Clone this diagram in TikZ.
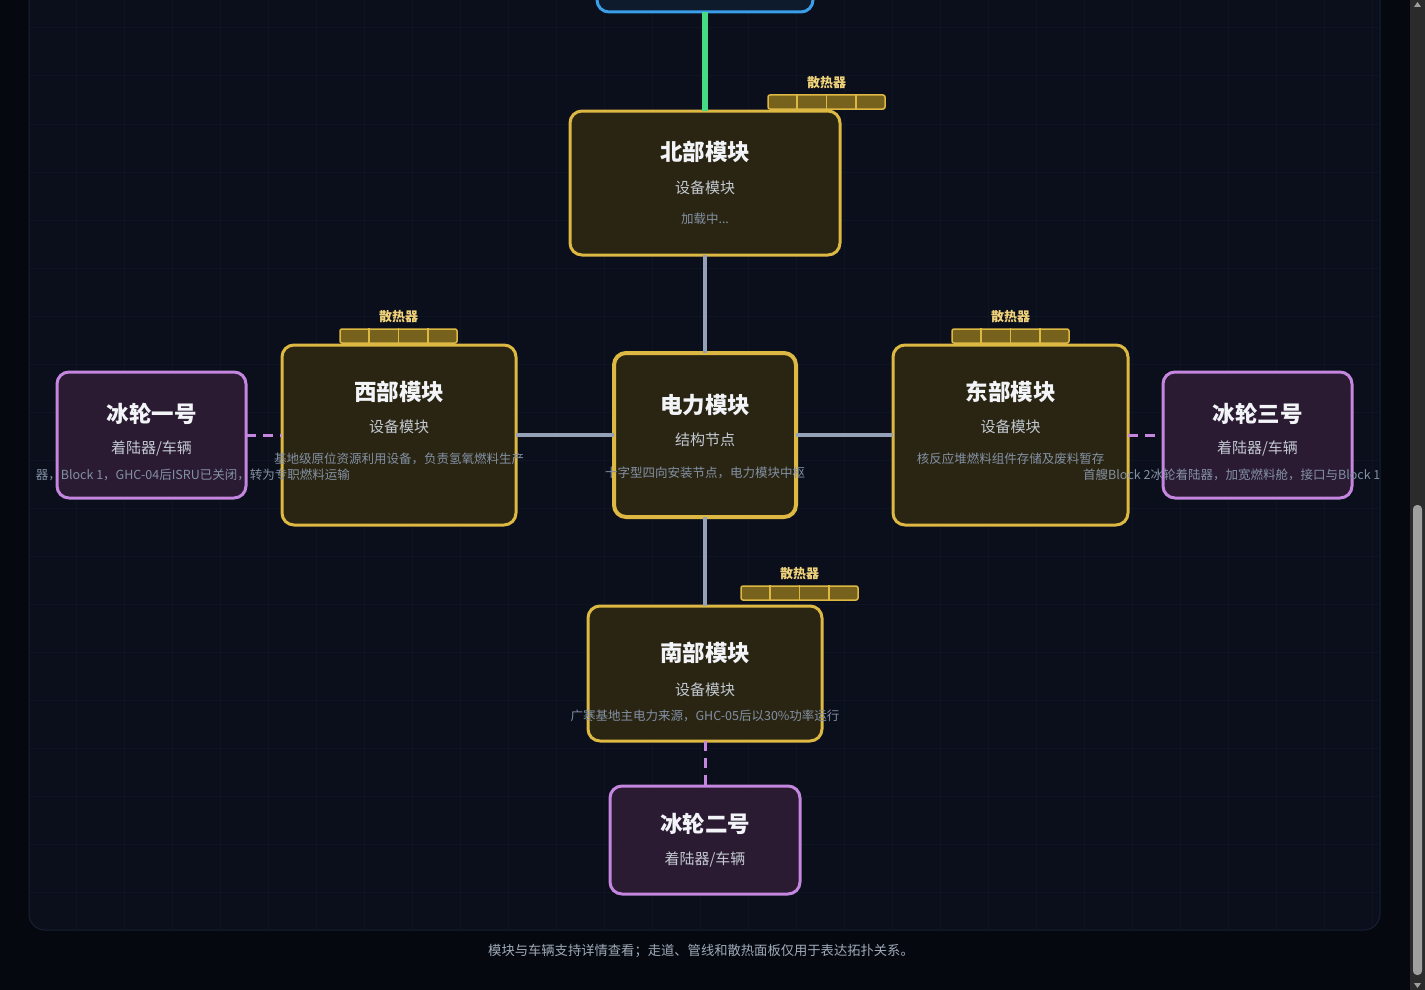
\documentclass[tikz,border=0pt]{standalone}
\usepackage{fontspec}
\setmainfont{Noto Sans CJK SC}
\usepackage{tikz}
\definecolor{PageDark}{HTML}{05080F}
\definecolor{PanelDark}{HTML}{0A0F1B}
\definecolor{PanelEdge}{HTML}{172134}
\definecolor{GridLine}{HTML}{0D1422}
\definecolor{ModGold}{HTML}{DDB843}
\definecolor{ModFill}{HTML}{2A2512}
\definecolor{FinFill}{HTML}{76621C}
\definecolor{FinText}{HTML}{F0D27A}
\definecolor{CarPurple}{HTML}{C586DF}
\definecolor{CarFill}{HTML}{2A1B33}
\definecolor{CoreBlue}{HTML}{3A9EE8}
\definecolor{CoreFill}{HTML}{0E1B2D}
\definecolor{PipeGray}{HTML}{94A1B6}
\definecolor{PipeGreen}{HTML}{46DC86}
\definecolor{TitleWhite}{HTML}{F2F4F8}
\definecolor{SubGray}{HTML}{C3C9D2}
\definecolor{DescGray}{HTML}{8391A5}
\definecolor{FootGray}{HTML}{A0AAB8}
\definecolor{BarTrack}{HTML}{2B2B2B}
\definecolor{BarThumb}{HTML}{9F9F9F}
\usetikzlibrary{calc,positioning}

\begin{document}
\begin{tikzpicture}[x=1pt, y=-1pt,
  module/.style={draw=ModGold, fill=ModFill, line width=3pt, rounded corners=12pt, inner sep=0pt, outer sep=0pt},
  vehicle/.style={draw=CarPurple, fill=CarFill, line width=3pt, rounded corners=12pt, inner sep=0pt, outer sep=0pt},
  title/.style={text=TitleWhite, font=\bfseries\fontsize{22.5}{24}\selectfont, inner sep=0pt},
  subline/.style={text=SubGray, font=\fontsize{15}{17}\selectfont, inner sep=0pt},
  descline/.style={text=DescGray, font=\fontsize{12.5}{14}\selectfont, inner sep=0pt},
  fin/.style={draw=ModGold, fill=FinFill, line width=1.5pt, rounded corners=2pt, minimum width=117, minimum height=14, inner sep=0pt},
  finlabel/.style={text=FinText, font=\bfseries\fontsize{13}{15}\selectfont, inner sep=0pt},
  walk/.style={draw=PipeGray, line width=4pt},
  feed/.style={draw=PipeGreen, line width=6pt},
  dock/.style={draw=CarPurple, line width=3pt, dash pattern=on 10pt off 7pt}]

 \fill[PageDark] (0,0) rectangle (1425,990);
 \useasboundingbox (0,0) rectangle (1425,990);

 % panel with grid
 \fill[PanelDark, rounded corners=16pt] (29,-40) rectangle (1380,930);
 \begin{scope}
 \clip[rounded corners=16pt] (29,-40) rectangle (1380,930);
 \foreach \gx in {28,76,...,1380} \draw[GridLine, line width=1pt] (\gx,-40) -- (\gx,930);
 \foreach \gy in {28,76,...,930} \draw[GridLine, line width=1pt] (29,\gy) -- (1380,\gy);

 % modules
 \node (hub) [module, line width=4pt, minimum width=182, minimum height=164] at (705,435) {};
 \node (north) [module, minimum width=270, minimum height=144, above=98pt of hub] {};
 \node (west) [module, minimum width=234, minimum height=180, left=98pt of hub] {};
 \node (east) [module, minimum width=235, minimum height=180, right=97pt of hub] {};
 \node (south) [module, minimum width=234, minimum height=135, below=89pt of hub] {};
 \node (core) [draw=CoreBlue, fill=CoreFill, line width=3pt, rounded corners=12pt, outer sep=0pt, minimum width=216, minimum height=100, above=99pt of north] {};

 % vehicles
 \node (ice1) [vehicle, minimum width=189, minimum height=126, left=36pt of west] {};
 \node (ice3) [vehicle, minimum width=189, minimum height=126, right=35pt of east] {};
 \node (ice2) [vehicle, minimum width=190, minimum height=108, below=45pt of south] {};

 % radiators
 \foreach \fx/\fy [count=\i] in {826.5/102, 398.5/336, 1010.5/336, 799.5/593} {
  \node (fin\i) [fin] at (\fx,\fy) {};
  \foreach \k in {1,2,3}
   \draw[ModGold, line width=1.5pt] ($(fin\i.south west)!\k/4!(fin\i.south east)$) -- ($(fin\i.north west)!\k/4!(fin\i.north east)$);
  \node [finlabel] at ($(fin\i.north)+(0,-12)$) {散热器};
 }

 % connectors
 \draw[feed] (core) -- (north);
 \draw[walk] (north) -- (hub);
 \draw[walk] (west) -- (hub);
 \draw[walk] (hub) -- (east);
 \draw[walk] (hub) -- (south);
 \draw[dock] (ice1) -- (west);
 \draw[dock] (east) -- (ice3);
 \draw[dock] (south) -- (ice2);

 % texts
 \node [title] at ($(north.north)+(0,41)$) {北部模块};
 \node [subline] at ($(north.north)+(0,77)$) {设备模块};
 \node [descline] at ($(north.north)+(0,108)$) {加载中...};

 \node [title] at ($(hub.north)+(0,52)$) {电力模块};
 \node [subline] at ($(hub.north)+(0,87)$) {结构节点};
 \node [descline] at ($(hub.north)+(0,120)$) {十字型四向安装节点，电力模块中枢};

 \node [title] at ($(west.north)+(0,47)$) {西部模块};
 \node [subline] at ($(west.north)+(0,82)$) {设备模块};
 \node [descline] at ($(west.north)+(0,114)$) {基地级原位资源利用设备，负责氢氧燃料生产};

 \node [title] at ($(east.north)+(0,47)$) {东部模块};
 \node [subline] at ($(east.north)+(0,82)$) {设备模块};
 \node [descline] at ($(east.north)+(0,114)$) {核反应堆燃料组件存储及废料暂存};

 \node [title] at ($(south.north)+(0,47)$) {南部模块};
 \node [subline] at ($(south.north)+(0,84)$) {设备模块};
 \node [descline] at ($(south.north)+(0,110)$) {广寒基地主电力来源，GHC-05后以30\%功率运行};

 \node [title] at ($(ice1.north)+(0,42)$) {冰轮一号};
 \node [subline] at ($(ice1.north)+(0,77)$) {着陆器/车辆};
 \node [descline, anchor=east] at (350,475) {器，Block 1，GHC-04后ISRU已关闭，转为专职燃料运输};

 \node [title] at ($(ice3.north)+(0,42)$) {冰轮三号};
 \node [subline] at ($(ice3.north)+(0,77)$) {着陆器/车辆};
 \node [descline, anchor=west] at (1083,475) {首艘Block 2冰轮着陆器，加宽燃料舱，接口与Block 1};

 \node [title] at ($(ice2.north)+(0,38)$) {冰轮二号};
 \node [subline] at ($(ice2.north)+(0,73)$) {着陆器/车辆};
 \end{scope}
 \draw[PanelEdge, line width=1pt, rounded corners=16pt] (29,-40) rectangle (1380,930);

 \node (footer) [text=FootGray, font=\fontsize{13.3}{15}\selectfont] at (701,951) {模块与车辆支持详情查看；走道、管线和散热面板仅用于表达拓扑关系。};

 % scrollbar
 \fill[BarTrack] (1410,0) rectangle (1425,990);
 \fill[BarThumb, rounded corners=4pt] (1413,505) rectangle (1422,975);
 \fill[BarThumb] (1414,7) -- (1421,7) -- (1417.5,2) -- cycle;
 \fill[BarThumb] (1414,983) -- (1421,983) -- (1417.5,988) -- cycle;

\end{tikzpicture}
\end{document}
